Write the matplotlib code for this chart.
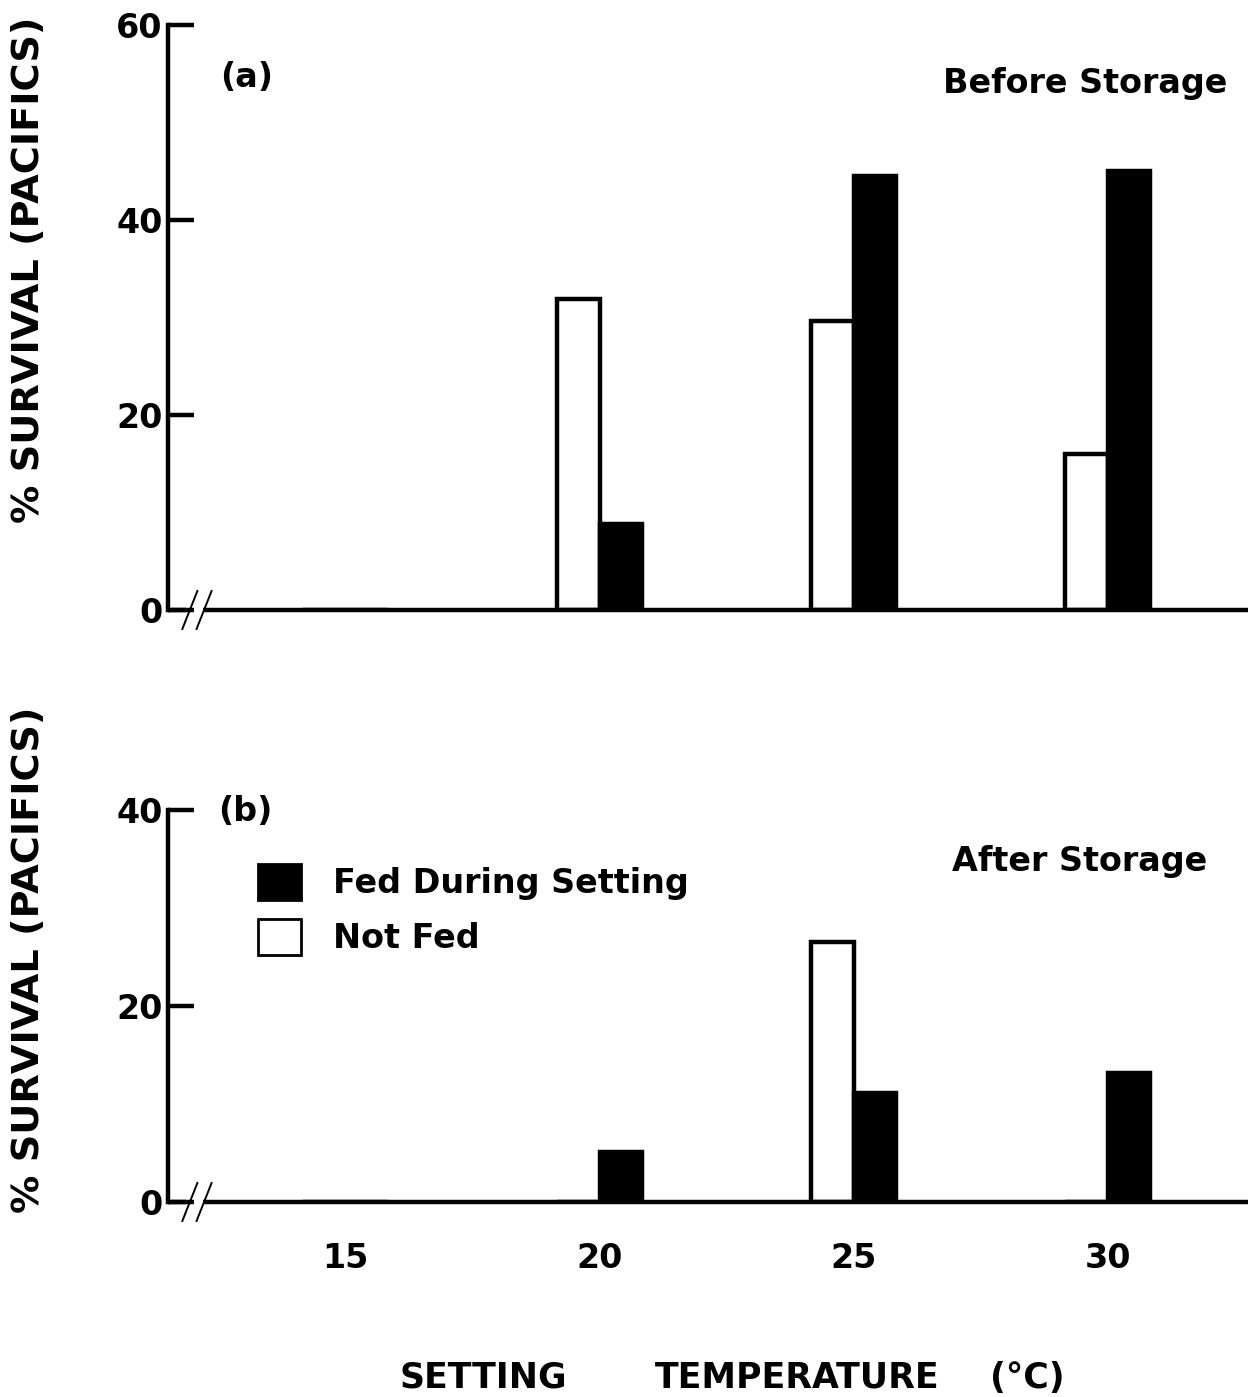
import matplotlib
matplotlib.use("Agg")
import matplotlib.pyplot as plt
from matplotlib.patches import Patch

# ---- data ----
temps = [15, 20, 25, 30]
temp_labels = ["15", "20", "25", "30"]
before_not_fed = [0, 31.9, 29.6, 16.0]
before_fed = [0, 8.8, 44.5, 45.0]
after_not_fed = [0, 0, 26.5, 0]
after_fed = [0, 5.1, 11.1, 13.2]

W, H = 1253, 1397
plt.rcParams['font.family'] = ['DejaVu Sans']
plt.rcParams['font.weight'] = 'bold'
fig = plt.figure(figsize=(W / 100, H / 100), dpi=100)

def fx(px):
    return px / W

def fy(py):
    return 1 - py / H

XL, XR = 168, 1248
ax1 = fig.add_axes([fx(XL), fy(610), fx(XR) - fx(XL), fy(25) - fy(610)])
ax2 = fig.add_axes([fx(XL), fy(1202), fx(XR) - fx(XL), fy(810) - fy(1202)])

bw = 0.84
lw = 3.2
FS = 24

def style(ax, ymax, yticks):
    ax.set_xlim(11.5, 32.76)
    ax.set_ylim(0, ymax)
    for s in ['top', 'right', 'bottom']:
        ax.spines[s].set_visible(False)
    ax.spines['left'].set_linewidth(lw)
    ax.set_yticks(yticks)
    ax.set_yticklabels([str(t) for t in yticks], fontsize=FS, fontweight='bold')
    ax.tick_params(axis='y', direction='in', length=19, width=lw, pad=4)
    # broken x axis baseline
    ax.plot([11.5, 11.85], [0, 0], color='black', lw=lw, clip_on=False,
            solid_capstyle='butt')
    ax.plot([12.19, 32.76], [0, 0], color='black', lw=lw, clip_on=False,
            solid_capstyle='butt')
    dy = 19 * ymax / ax.bbox.height
    for cx in (11.93, 12.21):
        ax.plot([cx - 0.148, cx + 0.148], [-dy, dy], color='black', lw=1.4,
                clip_on=False)

def bars(ax, not_fed, fed):
    xs_w = [t - bw / 2 for t in temps]
    xs_b = [t + bw / 2 for t in temps]
    ax.bar(xs_w, not_fed, width=bw, facecolor='white', edgecolor='black',
           linewidth=lw, label='Not Fed', zorder=2)
    ax.bar(xs_b, fed, width=bw, facecolor='black', edgecolor='black',
           linewidth=lw, label='Fed During Setting', zorder=3)

bars(ax1, before_not_fed, before_fed)
bars(ax2, after_not_fed, after_fed)
style(ax1, 60, [0, 20, 40, 60])
style(ax2, 40, [0, 20, 40])

ax1.set_xticks([])
ax2.set_xticks(temps)
ax2.set_xticklabels(temp_labels, fontsize=FS, fontweight='bold')
ax2.tick_params(axis='x', length=0, pad=29)

for ax, yc in ((ax1, 0.581), (ax2, 0.617)):
    ax.set_ylabel("% SURVIVAL (PACIFICS)", fontsize=27.5, fontweight='bold')
    ax.yaxis.set_label_coords(-0.112, yc)

ax1.text(12.52, 54.6, "(a)", fontsize=FS, ha='left', va='center')
ax1.text(26.76, 54.0, "Before Storage", fontsize=FS, ha='left', va='center')
ax2.text(12.48, 39.8, "(b)", fontsize=FS, ha='left', va='center')
ax2.text(26.93, 34.7, "After Storage", fontsize=FS, ha='left', va='center')

handles = [Patch(facecolor='black', edgecolor='black', linewidth=2),
           Patch(facecolor='white', edgecolor='black', linewidth=2)]
ax2.legend(handles, ["Fed During Setting", "Not Fed"], loc='upper left',
           bbox_to_anchor=(fx(258), fy(864)), bbox_transform=fig.transFigure,
           frameon=False, prop={'size': FS, 'weight': 'bold'},
           handlelength=1.3, handleheight=1.3,
           handletextpad=0.95, labelspacing=0.55, borderpad=0, borderaxespad=0)

yl = fy(1378)
fig.text(fx(400), yl, "SETTING", fontsize=25, ha='left', va='center')
fig.text(fx(655), yl, "TEMPERATURE", fontsize=25, ha='left', va='center')
fig.text(fx(990), yl, "(°C)", fontsize=25, ha='left', va='center')

fig.savefig("out.png", dpi=100)
